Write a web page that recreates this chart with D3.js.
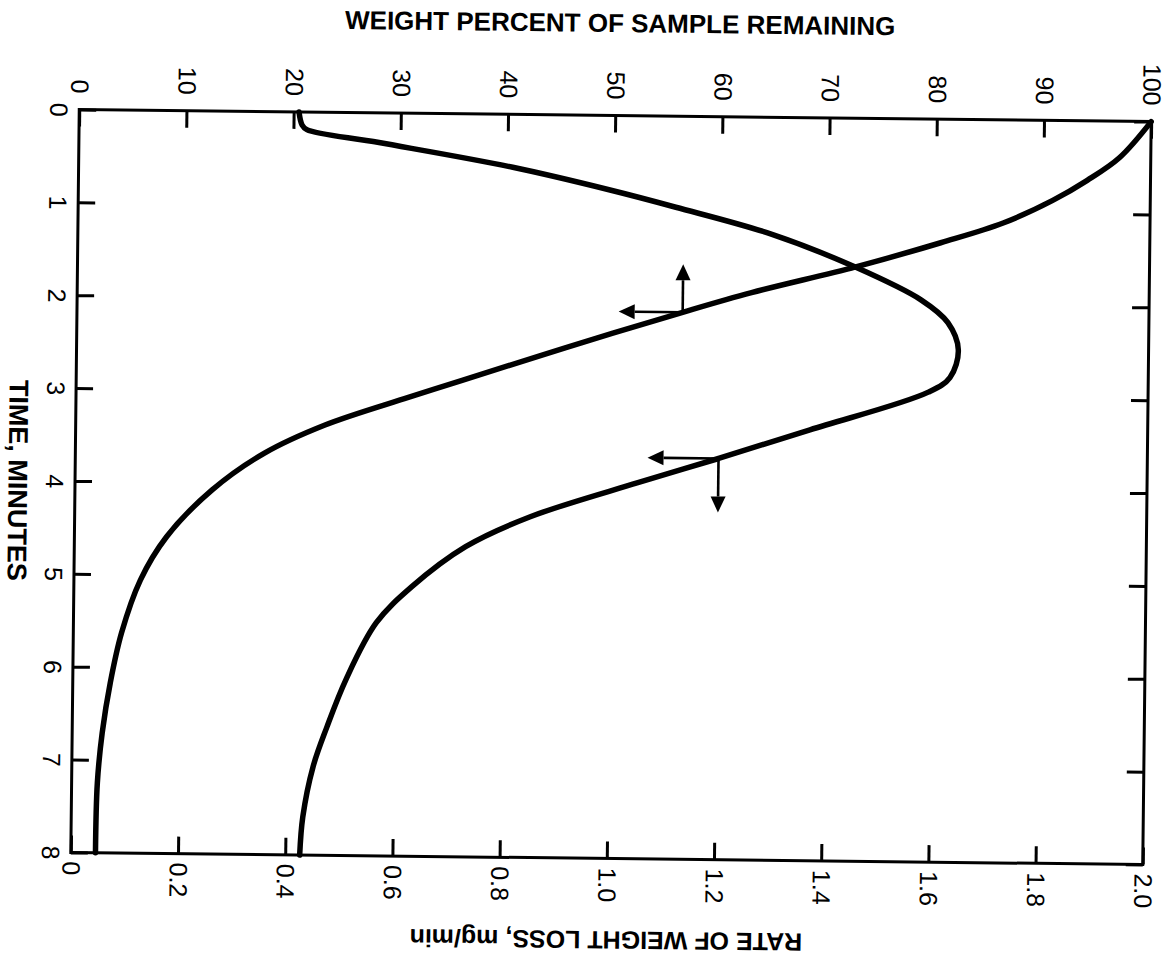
<!DOCTYPE html>
<html>
<head>
<meta charset="utf-8">
<script src="https://cdn.jsdelivr.net/npm/d3@7"></script>
<style>
  html, body { margin: 0; padding: 0; background: #ffffff; }
  svg { display: block; }
</style>
</head>
<body>
<svg id="chart" width="1171" height="966"></svg>
<script>
// ---- data ----------------------------------------------------------------
const timeTicks = [0, 1, 2, 3, 4, 5, 6, 7, 8];
const weightTicks = [0, 10, 20, 30, 40, 50, 60, 70, 80, 90, 100];
const rateTicks = [0, 0.2, 0.4, 0.6, 0.8, 1.0, 1.2, 1.4, 1.6, 1.8, 2.0];
const rateTickLabels = ["0", "0.2", "0.4", "0.6", "0.8", "1.0", "1.2", "1.4", "1.6", "1.8", "2.0"];

// weight percent of sample remaining vs time (min)
const weightTime = [0, 0.39, 0.64, 0.86, 1.11, 1.33, 1.60, 1.89, 2.11, 2.51, 2.87, 3.06,
                    3.37, 3.68, 4.08, 4.59, 5.06, 5.63, 6.17, 6.71, 7.25, 8.0];
const weightPct  = [100, 97.1, 94.1, 90.9, 86.3, 80.5, 72.6, 62.9, 56.5, 45.5, 36.0, 31.0,
                    23.2, 17.6, 12.8, 8.6, 6.2, 4.5, 3.5, 2.8, 2.4, 2.3];

// rate of weight loss (mg/min) vs time (min)
const rateTime  = [0, 0.14, 0.19, 0.32, 0.57, 0.80, 0.98, 1.26, 1.60, 1.95, 2.19, 2.48,
                   2.78, 2.94, 3.36, 3.68, 3.95, 4.33, 4.66, 5.10, 5.49, 6.10, 6.62, 7.05, 7.59, 8.0];
const rateValue = [0.41, 0.416, 0.425, 0.56, 0.81, 0.99, 1.115, 1.295, 1.45, 1.575, 1.625, 1.645,
                   1.63, 1.59, 1.37, 1.20, 1.05, 0.85, 0.73, 0.63, 0.565, 0.51, 0.475, 0.45, 0.432, 0.427];

// points on each curve where the axis-pointer arrows sit
const weightArrowAt = { time: 2.11, value: 56.5 };
const rateArrowAt   = { time: 3.68, value: 1.20 };

// ---- layout --------------------------------------------------------------
const W = 1171, H = 966;
const plot = { left: 75, right: 1147, top: 115.5, bottom: 858.5 };
const tilt = 0.65;               // whole sheet sits slightly skewed
const FONT = "'Liberation Sans', Arial, Helvetica, sans-serif";
const INK = "#000";

const svg = d3.select("#chart");
svg.append("rect").attr("width", W).attr("height", H).attr("fill", "#fff");

const g = svg.append("g")
  .attr("transform", `rotate(${tilt}, ${(plot.left + plot.right) / 2}, ${(plot.top + plot.bottom) / 2})`);

// scales: time runs down the page, values run across
const y = d3.scaleLinear().domain([0, 8]).range([plot.top, plot.bottom]);
const xW = d3.scaleLinear().domain([0, 100]).range([plot.left, plot.right]);
const xR = d3.scaleLinear().domain([0, 2.0]).range([plot.left, plot.right]);

const TICK = 17;

// top axis: weight percent
const topAxis = g.append("g")
  .attr("transform", `translate(0,${plot.top})`)
  .call(d3.axisTop(xW).tickValues(weightTicks).tickSize(-TICK).tickFormat(d3.format("d")));

// bottom axis: rate of weight loss
const bottomAxis = g.append("g")
  .attr("transform", `translate(0,${plot.bottom})`)
  .call(d3.axisBottom(xR).tickValues(rateTicks).tickSize(-TICK)
        .tickFormat((d, i) => rateTickLabels[i]));

// left axis: time
const leftAxis = g.append("g")
  .attr("transform", `translate(${plot.left},0)`)
  .call(d3.axisLeft(y).tickValues(timeTicks).tickSize(-TICK).tickFormat(d3.format("d")));

// right axis: ticks only
const rightAxis = g.append("g")
  .attr("transform", `translate(${plot.right},0)`)
  .call(d3.axisRight(y).tickValues(timeTicks).tickSize(-TICK).tickFormat(""));

[topAxis, bottomAxis, leftAxis, rightAxis].forEach(a => {
  a.select(".domain").remove();
  a.selectAll(".tick line").attr("stroke", INK).attr("stroke-width", 3);
  a.selectAll(".tick text")
    .attr("fill", INK)
    .style("font-family", FONT)
    .style("font-size", "25px");
});
rightAxis.selectAll(".tick text").remove();

topAxis.selectAll(".tick text")
  .attr("x", null).attr("y", null)
  .attr("transform", "translate(0,-16) rotate(90)")
  .attr("text-anchor", "end")
  .attr("dy", "0.35em");

bottomAxis.selectAll(".tick text")
  .attr("x", null).attr("y", null)
  .attr("transform", "translate(0,9) rotate(90)")
  .attr("text-anchor", "start")
  .attr("dy", "0.35em");

leftAxis.selectAll(".tick text")
  .attr("x", null).attr("y", null)
  .attr("transform", "translate(-29,0) rotate(90)")
  .attr("text-anchor", "middle")
  .attr("dy", "0");

// frame
g.append("rect")
  .attr("x", plot.left).attr("y", plot.top)
  .attr("width", plot.right - plot.left).attr("height", plot.bottom - plot.top)
  .attr("fill", "none").attr("stroke", INK).attr("stroke-width", 3);

// ---- curves --------------------------------------------------------------
const weightData = weightTime.map((t, i) => ({ t, v: weightPct[i] }));
const rateData = rateTime.map((t, i) => ({ t, v: rateValue[i] }));

const smooth = d3.curveCatmullRom.alpha(0.5);
const weightLine = d3.line().x(d => xW(d.v)).y(d => y(d.t)).curve(smooth);
const rateLine = d3.line().x(d => xR(d.v)).y(d => y(d.t)).curve(smooth);

g.append("path").datum(weightData)
  .attr("d", weightLine)
  .attr("fill", "none").attr("stroke", INK).attr("stroke-width", 5.5)
  .attr("stroke-linejoin", "round").attr("stroke-linecap", "round");

g.append("path").datum(rateData)
  .attr("d", rateLine)
  .attr("fill", "none").attr("stroke", INK).attr("stroke-width", 5.5)
  .attr("stroke-linejoin", "round").attr("stroke-linecap", "round");

// ---- axis-pointer arrows ---------------------------------------------------
function arrow(x0, y0, dx, dy) {
  const len = Math.hypot(dx, dy), ux = dx / len, uy = dy / len;
  const headL = 16, headW = 7.5;
  const bx = x0 + dx - ux * headL, by = y0 + dy - uy * headL;
  g.append("line")
    .attr("x1", x0).attr("y1", y0).attr("x2", bx).attr("y2", by)
    .attr("stroke", INK).attr("stroke-width", 2.6);
  g.append("path")
    .attr("d", `M${x0 + dx},${y0 + dy}L${bx - uy * headW},${by + ux * headW}L${bx + uy * headW},${by - ux * headW}Z`)
    .attr("fill", INK);
}

{
  const ax = xW(weightArrowAt.value), ay = y(weightArrowAt.time);
  arrow(ax, ay, 0, -48);   // toward the weight-percent scale
  arrow(ax, ay, -64, 0);   // toward the time scale
}
{
  const ax = xR(rateArrowAt.value), ay = y(rateArrowAt.time);
  arrow(ax, ay, -71, 0);   // toward the time scale
  arrow(ax, ay, 0, 54);    // toward the rate scale
}

// ---- titles --------------------------------------------------------------
g.append("text")
  .attr("x", 615).attr("y", 32)
  .attr("text-anchor", "middle")
  .style("font-family", FONT).style("font-size", "26px").style("font-weight", "bold")
  .attr("fill", INK)
  .text("WEIGHT PERCENT OF SAMPLE REMAINING");

g.append("text")
  .attr("transform", `translate(18,${(plot.top + plot.bottom) / 2}) rotate(90)`)
  .attr("text-anchor", "middle").attr("dy", "0.35em")
  .style("font-family", FONT).style("font-size", "27px").style("font-weight", "bold")
  .attr("fill", INK)
  .text("TIME, MINUTES");

g.append("text")
  .attr("transform", `translate(${(plot.left + plot.right) / 2},940) rotate(180)`)
  .attr("text-anchor", "middle").attr("dy", "0.35em")
  .style("font-family", FONT).style("font-size", "25px").style("font-weight", "bold")
  .attr("fill", INK)
  .text("RATE OF WEIGHT LOSS, mg/min");
</script>
</body>
</html>
